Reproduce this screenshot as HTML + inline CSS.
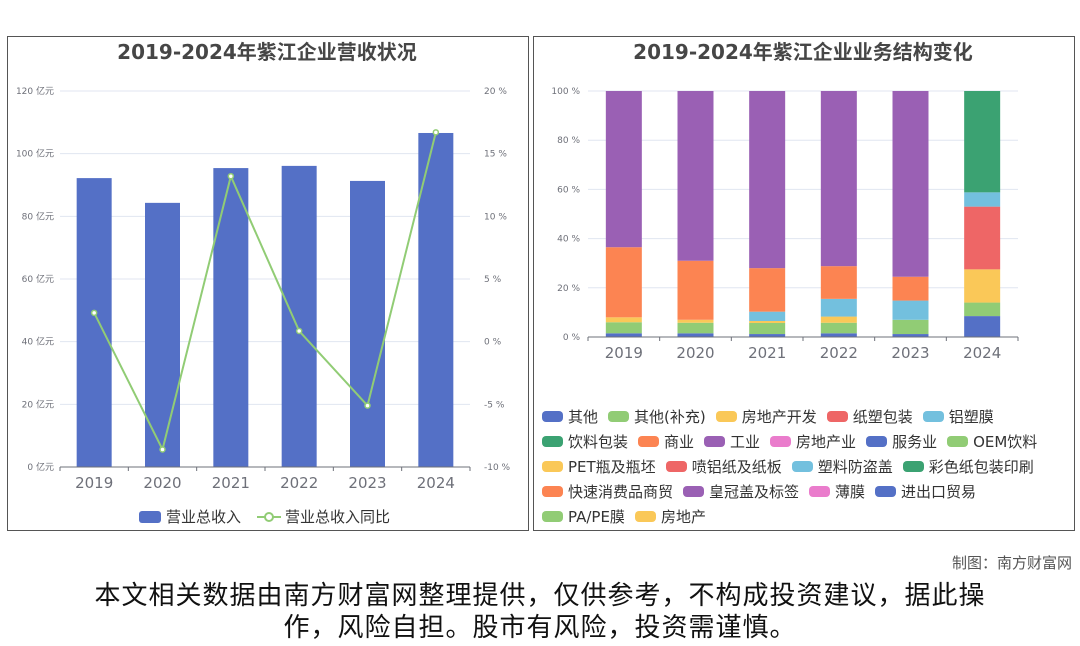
<!DOCTYPE html>
<html><head><meta charset="utf-8">
<style>
body{margin:0;width:1080px;height:646px;background:#fff;position:relative;overflow:hidden;font-family:"DejaVu Sans","Noto Sans CJK SC",sans-serif}
.panel{position:absolute;border:1px solid #555;background:#fff}
.lg{position:absolute;left:542px;display:flex;align-items:center;font-size:15px;color:#333;white-space:nowrap}
.it{display:flex;align-items:center;margin-right:10px}
.ic{width:21px;height:11px;border-radius:4px;margin-right:5px;display:inline-block}
</style></head><body>
<div class="panel" style="left:7px;top:36px;width:520px;height:493px"></div>
<div class="panel" style="left:533px;top:36px;width:540px;height:493px"></div>
<svg id="c1" width="1080" height="646" style="position:absolute;left:0;top:0;font-family:'DejaVu Sans','Noto Sans CJK SC',sans-serif"></svg>
<div id="leg2"></div>
<div style="position:absolute;right:8px;top:552px;font-size:15px;color:#555">制图：南方财富网</div>
<div style="position:absolute;left:0;width:1080px;top:580px;text-align:center;font-size:26px;letter-spacing:1px;line-height:32px;color:#111">本文相关数据由南方财富网整理提供，仅供参考，不构成投资建议，据此操<br>作，风险自担。股市有风险，投资需谨慎。</div>
<script>
const years=['2019','2020','2021','2022','2023','2024'];
const revenue=[92.2,84.3,95.4,96.1,91.3,106.6];
const growth=[2.3,-8.6,13.2,0.85,-5.1,16.7];
const leftTicks=[0,20,40,60,80,100,120];
const rightTicks=[-10,-5,0,5,10,15,20];
const pctTicks=[0,20,40,60,80,100];
const segNames=['其他','其他(补充)','房地产开发','纸塑包装','铝塑膜','饮料包装','商业','工业','房地产业','服务业','OEM饮料','PET瓶及瓶坯','喷铝纸及纸板','塑料防盗盖','彩色纸包装印刷','快速消费品商贸','皇冠盖及标签','薄膜','进出口贸易','PA/PE膜','房地产'];
const s_other=[1.5,1.5,1.2,1.5,1.2,0];
const s_other2=[4.5,4.3,4.5,4.3,5.8,0];
const s_realdev=[2,1.2,0.8,2.5,0,0];
const s_alu=[0,0,3.8,7.2,7.8,0];
const s_commerce=[28.5,24,17.7,13.3,9.7,0];
const s_industry=[63.5,69,72,71.2,75.5,0];
const s_service=[0,0,0,0,0,8.5];
const s_oem=[0,0,0,0,0,5.5];
const s_pet=[0,0,0,0,0,13.5];
const s_alupaper=[0,0,0,0,0,25.5];
const s_cap=[0,0,0,0,0,5.8];
const s_color=[0,0,0,0,0,41.2];
const colors=['#5470c6','#91cc75','#fac858','#ee6666','#73c0de','#3ba272','#fc8452','#9a60b4','#ea7ccc'];
const stack=[[0,s_other],[1,s_other2],[2,s_realdev],[4,s_alu],[6,s_commerce],[7,s_industry],[9,s_service],[10,s_oem],[11,s_pet],[12,s_alupaper],[13,s_cap],[14,s_color]];
const svg=document.getElementById('c1');const NS='http://www.w3.org/2000/svg';
function el(t,a,txt){const e=document.createElementNS(NS,t);for(const k in a)e.setAttribute(k,a[k]);if(txt!=null)e.textContent=txt;svg.appendChild(e);return e;}
let t=el('text',{x:267,y:59,'text-anchor':'middle','font-size':20,'font-weight':'bold',fill:'#464646'},'2019-2024年紫江企业营收状况');

t=el('text',{x:803,y:59,'text-anchor':'middle','font-size':20,'font-weight':'bold',fill:'#464646'},'2019-2024年紫江企业业务结构变化');

const L0=60,L1=470,Y0=467,Y1=91;
const yL=v=>Y0-(v/120)*(Y0-Y1);
const yR=v=>Y0-((v+10)/30)*(Y0-Y1);
const cw=(L1-L0)/6;const xC=i=>L0+cw*(i+0.5);
leftTicks.forEach(v=>{const y=yL(v);
 if(v>0){const g=el('line',{x1:L0,x2:L1,y1:y,y2:y,stroke:'#e0e6f1'});}
 const tx=el('text',{x:54,y:y+3,'text-anchor':'end','font-size':9,fill:'#6e7079'},v+' 亿元');});
rightTicks.forEach(v=>{const tx=el('text',{x:484,y:yR(v)+3,'font-size':9,fill:'#6e7079'},v+' %');});
revenue.forEach((v,i)=>{const b=el('rect',{x:xC(i)-17.5,y:yL(v),width:35,height:Y0-yL(v),fill:'#5470c6'});});
let ax=el('line',{x1:L0,x2:L1,y1:Y0,y2:Y0,stroke:'#6e7079'});
years.forEach((y,i)=>{el('line',{x1:L0+cw*i,x2:L0+cw*i,y1:Y0,y2:Y0+4,stroke:'#6e7079'});
 const tx=el('text',{x:xC(i),y:488,'text-anchor':'middle','font-size':15,fill:'#6e7079'},y);});
el('line',{x1:L1,x2:L1,y1:Y0,y2:Y0+4,stroke:'#6e7079'});
const pl=el('polyline',{points:growth.map((v,i)=>xC(i)+','+yR(v)).join(' '),fill:'none',stroke:'#91cc75','stroke-width':2});

growth.forEach((v,i)=>{const c=el('circle',{cx:xC(i),cy:yR(v),r:2.5,fill:'#fff',stroke:'#91cc75','stroke-width':1.5});});
let r=el('rect',{x:139,y:511,width:22,height:12,rx:3,fill:'#5470c6'});
t=el('text',{x:166,y:522,'font-size':15,fill:'#333'},'营业总收入');
el('line',{x1:257,x2:281,y1:517,y2:517,stroke:'#91cc75','stroke-width':2});
el('circle',{cx:269,cy:517,r:4,fill:'#fff',stroke:'#91cc75','stroke-width':2});
t=el('text',{x:285,y:522,'font-size':15,fill:'#333'},'营业总收入同比');
const R0=588,R1=1018,P0=337,P1=91;
const yP=v=>P0-(v/100)*(P0-P1);const rw=(R1-R0)/6;const xR=i=>R0+rw*(i+0.5);
pctTicks.forEach(v=>{const y=yP(v);
 if(v>0){const g=el('line',{x1:R0,x2:R1,y1:y,y2:y,stroke:'#e0e6f1'});}
 const tx=el('text',{x:580,y:y+3,'text-anchor':'end','font-size':9,fill:'#6e7079'},v+' %');});
years.forEach((y,i)=>{let acc=0;stack.forEach(([ci,arr])=>{const v=arr[i];if(v>0){const b=el('rect',{x:xR(i)-18,y:yP(acc+v),width:36,height:yP(acc)-yP(acc+v),fill:colors[ci%9]});}acc+=v;});});
ax=el('line',{x1:R0,x2:R1,y1:P0,y2:P0,stroke:'#6e7079'});
years.forEach((y,i)=>{el('line',{x1:R0+rw*i,x2:R0+rw*i,y1:P0,y2:P0+4,stroke:'#6e7079'});
 const tx=el('text',{x:xR(i),y:358,'text-anchor':'middle','font-size':15,fill:'#6e7079'},y);});
el('line',{x1:R1,x2:R1,y1:P0,y2:P0+4,stroke:'#6e7079'});
const rows=[[0,5],[5,11],[11,15],[15,19],[19,21]];const rowY=[406,431,456,481,506];
const lg=document.getElementById('leg2');
rows.forEach(([a,b],ri)=>{const d=document.createElement('div');d.className='lg';d.style.top=rowY[ri]+'px';
 for(let k=a;k<b;k++){const it=document.createElement('span');it.className='it';
  
  
  it.innerHTML='<span class="ic" style="background:'+colors[k%9]+'"></span>'+segNames[k];d.appendChild(it);}
 lg.appendChild(d);});
</script>
</body></html>
